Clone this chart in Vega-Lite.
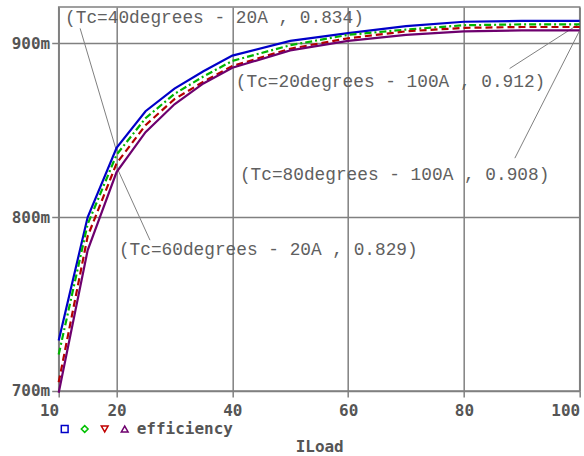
{
  "$schema": "https://vega.github.io/schema/vega-lite/v6.json",
  "width": 521,
  "height": 384,
  "autosize": "none",
  "padding": {"left": 58.7, "top": 7, "right": 3, "bottom": 65},
  "background": "white",
  "config": {"view": {"stroke": "#808080", "strokeWidth": 1.5}},
  "datasets": {
    "curves": [
      {"x": 10, "y": 0.729, "s": "Tc20"}, {"x": 15, "y": 0.800, "s": "Tc20"}, {"x": 20, "y": 0.840, "s": "Tc20"}, {"x": 25, "y": 0.861, "s": "Tc20"}, {"x": 30, "y": 0.874, "s": "Tc20"}, {"x": 35, "y": 0.884, "s": "Tc20"}, {"x": 40, "y": 0.893, "s": "Tc20"}, {"x": 50, "y": 0.9015, "s": "Tc20"}, {"x": 60, "y": 0.906, "s": "Tc20"}, {"x": 70, "y": 0.910, "s": "Tc20"}, {"x": 80, "y": 0.9125, "s": "Tc20"}, {"x": 90, "y": 0.913, "s": "Tc20"}, {"x": 100, "y": 0.913, "s": "Tc20"},
      {"x": 10, "y": 0.721, "s": "Tc40"}, {"x": 15, "y": 0.796, "s": "Tc40"}, {"x": 20, "y": 0.836, "s": "Tc40"}, {"x": 25, "y": 0.857, "s": "Tc40"}, {"x": 30, "y": 0.871, "s": "Tc40"}, {"x": 35, "y": 0.881, "s": "Tc40"}, {"x": 40, "y": 0.890, "s": "Tc40"}, {"x": 50, "y": 0.899, "s": "Tc40"}, {"x": 60, "y": 0.905, "s": "Tc40"}, {"x": 70, "y": 0.908, "s": "Tc40"}, {"x": 80, "y": 0.9105, "s": "Tc40"}, {"x": 90, "y": 0.911, "s": "Tc40"}, {"x": 100, "y": 0.911, "s": "Tc40"},
      {"x": 10, "y": 0.705, "s": "Tc60"}, {"x": 15, "y": 0.789, "s": "Tc60"}, {"x": 20, "y": 0.831, "s": "Tc60"}, {"x": 25, "y": 0.853, "s": "Tc60"}, {"x": 30, "y": 0.868, "s": "Tc60"}, {"x": 35, "y": 0.878, "s": "Tc60"}, {"x": 40, "y": 0.887, "s": "Tc60"}, {"x": 50, "y": 0.897, "s": "Tc60"}, {"x": 60, "y": 0.903, "s": "Tc60"}, {"x": 70, "y": 0.907, "s": "Tc60"}, {"x": 80, "y": 0.909, "s": "Tc60"}, {"x": 90, "y": 0.9095, "s": "Tc60"}, {"x": 100, "y": 0.9095, "s": "Tc60"},
      {"x": 10, "y": 0.699, "s": "Tc80"}, {"x": 15, "y": 0.781, "s": "Tc80"}, {"x": 20, "y": 0.826, "s": "Tc80"}, {"x": 25, "y": 0.849, "s": "Tc80"}, {"x": 30, "y": 0.865, "s": "Tc80"}, {"x": 35, "y": 0.877, "s": "Tc80"}, {"x": 40, "y": 0.886, "s": "Tc80"}, {"x": 50, "y": 0.896, "s": "Tc80"}, {"x": 60, "y": 0.9015, "s": "Tc80"}, {"x": 70, "y": 0.905, "s": "Tc80"}, {"x": 80, "y": 0.907, "s": "Tc80"}, {"x": 90, "y": 0.9075, "s": "Tc80"}, {"x": 100, "y": 0.9075, "s": "Tc80"}
    ],
    "labels": [
      {"x": 11.1, "y": 0.9144, "t": "(Tc=40degrees - 20A , 0.834)"},
      {"x": 40.6, "y": 0.8776, "t": "(Tc=20degrees - 100A , 0.912)"},
      {"x": 41.3, "y": 0.8241, "t": "(Tc=80degrees - 100A , 0.908)"},
      {"x": 20.4, "y": 0.781, "t": "(Tc=60degrees - 20A , 0.829)"}
    ],
    "leaders": [
      {"x": 13.7, "y": 0.9087, "x2": 20, "y2": 0.838},
      {"x": 25.77, "y": 0.7868, "x2": 20, "y2": 0.829},
      {"x": 87.9, "y": 0.8856, "x2": 100, "y2": 0.9115},
      {"x": 88.8, "y": 0.834, "x2": 100, "y2": 0.9075}
    ]
  },
  "layer": [
    {
      "data": {"name": "leaders"},
      "mark": {"type": "rule", "color": "#808080", "strokeWidth": 1},
      "encoding": {
        "x": {"field": "x", "type": "quantitative", "scale": {"domain": [10, 100], "nice": false, "zero": false},
          "axis": {"values": [10, 20, 40, 60, 80, 100], "grid": true, "gridColor": "#808080", "gridWidth": 1.5, "domain": false,
            "tickColor": "#808080", "tickWidth": 1.5, "tickSize": 6, "labelFont": "DejaVu Sans Mono", "labelFontSize": 16, "labelFontWeight": "bold",
            "labelColor": "#555555", "labelPadding": 6,
            "labelAlign": {"condition": {"test": "datum.value == 10 || datum.value == 100", "value": "right"}, "value": "center"},
            "title": "ILoad", "titleFont": "DejaVu Sans Mono", "titleFontSize": 16, "titleFontWeight": "bold", "titleColor": "#555555", "titlePadding": 20}},
        "y": {"field": "y", "type": "quantitative", "scale": {"domain": [0.7, 0.921], "nice": false, "zero": false},
          "axis": {"values": [0.7, 0.8, 0.9], "grid": true, "gridColor": "#808080", "gridWidth": 1.5, "domain": false,
            "tickColor": "#808080", "tickWidth": 1.5, "tickSize": 7, "labelFont": "DejaVu Sans Mono", "labelFontSize": 16, "labelFontWeight": "bold",
            "labelColor": "#555555", "labelPadding": 2, "labelExpr": "format(datum.value * 1000, 'd') + 'm'", "title": null}},
        "x2": {"field": "x2"},
        "y2": {"field": "y2"}
      }
    },
    {
      "data": {"name": "curves"},
      "mark": {"type": "point", "filled": false, "strokeWidth": 1.5, "opacity": 0},
      "encoding": {
        "x": {"field": "x", "type": "quantitative"},
        "y": {"field": "y", "type": "quantitative"},
        "color": {"field": "s", "type": "nominal", "scale": {"domain": ["Tc20", "Tc40", "Tc60", "Tc80"], "range": ["#0000c8", "#00c000", "#c00000", "#6e006e"]},
          "legend": {"title": null, "orient": "none", "legendX": -2, "legendY": 414, "direction": "horizontal", "padding": 0,
            "symbolSize": 46, "symbolStrokeWidth": 1.5, "symbolOpacity": 1, "labelOffset": 4, "columnPadding": 0,
            "labelExpr": "datum.value == 'Tc80' ? 'efficiency' : ''", "labelFont": "DejaVu Sans Mono", "labelFontSize": 16, "labelFontWeight": "bold", "labelColor": "#555555"}},
        "shape": {"field": "s", "type": "nominal", "scale": {"domain": ["Tc20", "Tc40", "Tc60", "Tc80"], "range": ["square", "diamond", "triangle-down", "triangle-up"]},
          "legend": {"title": null, "orient": "none", "legendX": -2, "legendY": 414, "direction": "horizontal", "padding": 0,
            "symbolSize": 46, "symbolStrokeWidth": 1.5, "symbolOpacity": 1, "labelOffset": 4, "columnPadding": 0,
            "labelExpr": "datum.value == 'Tc80' ? 'efficiency' : ''", "labelFont": "DejaVu Sans Mono", "labelFontSize": 16, "labelFontWeight": "bold", "labelColor": "#555555"}}
      }
    },
    {
      "data": {"name": "curves"},
      "transform": [{"filter": "datum.s == 'Tc20'"}],
      "mark": {"type": "line", "strokeWidth": 2.2, "color": "#0000c8"},
      "encoding": {
        "x": {"field": "x", "type": "quantitative"},
        "y": {"field": "y", "type": "quantitative"},
        "order": {"field": "x", "type": "quantitative"}
      }
    },
    {
      "data": {"name": "curves"},
      "transform": [{"filter": "datum.s == 'Tc40'"}],
      "mark": {"type": "line", "strokeWidth": 2.2, "color": "#00b400", "strokeDash": [7, 3, 2, 3]},
      "encoding": {
        "x": {"field": "x", "type": "quantitative"},
        "y": {"field": "y", "type": "quantitative"},
        "order": {"field": "x", "type": "quantitative"}
      }
    },
    {
      "data": {"name": "curves"},
      "transform": [{"filter": "datum.s == 'Tc60'"}],
      "mark": {"type": "line", "strokeWidth": 2.2, "color": "#b40000", "strokeDash": [7, 4]},
      "encoding": {
        "x": {"field": "x", "type": "quantitative"},
        "y": {"field": "y", "type": "quantitative"},
        "order": {"field": "x", "type": "quantitative"}
      }
    },
    {
      "data": {"name": "curves"},
      "transform": [{"filter": "datum.s == 'Tc80'"}],
      "mark": {"type": "line", "strokeWidth": 2.2, "color": "#6e006e"},
      "encoding": {
        "x": {"field": "x", "type": "quantitative"},
        "y": {"field": "y", "type": "quantitative"},
        "order": {"field": "x", "type": "quantitative"}
      }
    },
    {
      "data": {"name": "labels"},
      "mark": {"type": "text", "align": "left", "baseline": "middle", "font": "Liberation Mono", "fontSize": 17.8, "color": "#606060"},
      "encoding": {
        "x": {"field": "x", "type": "quantitative"},
        "y": {"field": "y", "type": "quantitative"},
        "text": {"field": "t"}
      }
    }
  ]
}
